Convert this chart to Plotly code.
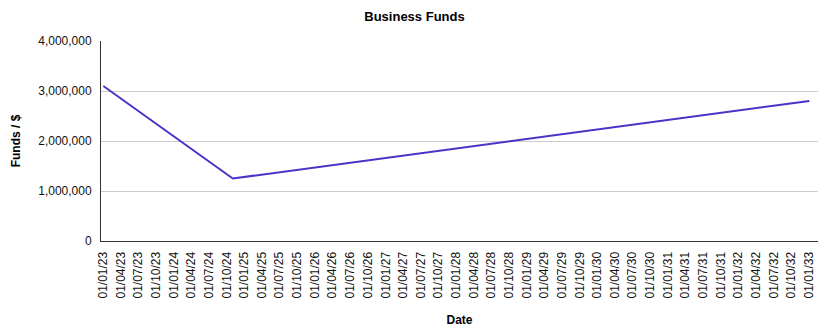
import plotly.graph_objects as go

# Data
dates = ["2023-01-01", "2024-11-01", "2033-01-01"]
funds = [3100000, 1250000, 2800000]

# Quarterly tick positions and labels (DD/MM/YY)
tick_dates = []
tick_labels = []
for yr in range(2023, 2034):
    for mo in (1, 4, 7, 10):
        if yr == 2033 and mo > 1:
            break
        tick_dates.append(f"{yr}-{mo:02d}-01")
        tick_labels.append(f"01/{mo:02d}/{yr % 100:02d}")

fig = go.Figure()
fig.add_trace(go.Scatter(
    x=dates, y=funds, mode="lines",
    line=dict(color="#4b32c8", width=2),
    hoverinfo="x+y", showlegend=False,
))

font_family = "Liberation Sans, Arial, sans-serif"

fig.update_layout(
    width=829, height=336,
    margin=dict(l=101, r=11, t=41, b=92),
    paper_bgcolor="white", plot_bgcolor="white",
    font=dict(family=font_family, size=12, color="#111111"),
    title=dict(text="<b>Business Funds</b>", x=0.5, xanchor="center",
               y=1 - 16 / 336, yanchor="middle",
               font=dict(size=13, color="#000000")),
    xaxis=dict(
        type="date",
        range=["2022-12-20", "2033-02-15"],
        tickvals=tick_dates, ticktext=tick_labels,
        tickangle=-90, ticks="", ticklabelstandoff=5,
        showgrid=False, showline=True, linecolor="#333333", linewidth=1,
        zeroline=False,
        title=dict(text="<b>Date</b>", standoff=18,
                   font=dict(size=12, color="#000000")),
    ),
    yaxis=dict(
        range=[0, 4000000],
        tickvals=[0, 1000000, 2000000, 3000000, 4000000],
        tickformat=",d", ticks="", ticklabelstandoff=6,
        showgrid=True, gridcolor="#cccccc", gridwidth=1,
        showline=True, linecolor="#333333", linewidth=1,
        zeroline=False,
        title=dict(text="<b>Funds / $</b>", standoff=15,
                   font=dict(size=12, color="#000000")),
    ),
)

fig.write_html("out.html")
